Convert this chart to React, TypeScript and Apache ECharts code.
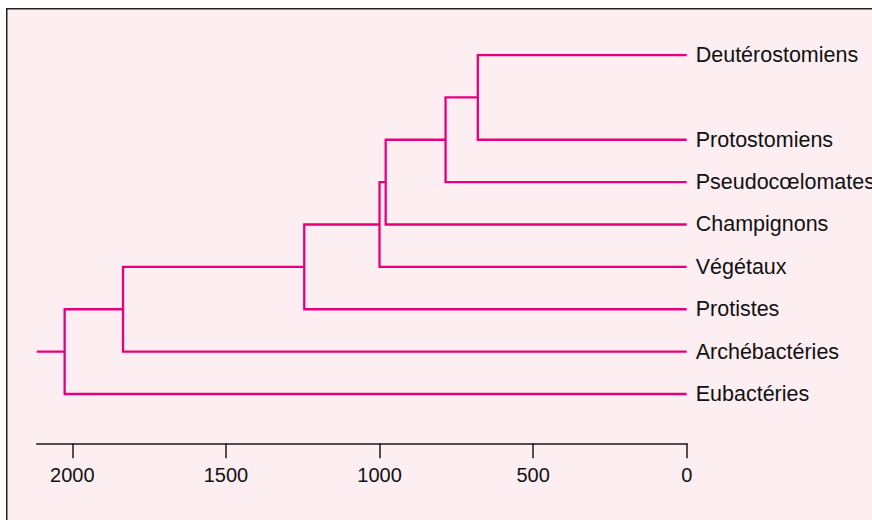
import React, { useEffect, useRef } from "react";
import * as echarts from "echarts";

// Leaves (name, vertical row)
const leafNames = [
  "Deutérostomiens",
  "Protostomiens",
  "Pseudocœlomates",
  "Champignons",
  "Végétaux",
  "Protistes",
  "Archébactéries",
  "Eubactéries",
];
const leafRows = [8, 6, 5, 4, 3, 2, 1, 0];

// Merges: [childA, childB] and age (millions of years)
const mergeChildren: [string, string][] = [
  ["Deutérostomiens", "Protostomiens"],
  ["n1", "Pseudocœlomates"],
  ["n2", "Champignons"],
  ["n3", "Végétaux"],
  ["n4", "Protistes"],
  ["n5", "Archébactéries"],
  ["n6", "Eubactéries"],
];
const mergeAges = [680, 785, 980, 1000, 1245, 1835, 2025];
const rootStart = 2116;

const axisTicks = [0, 500, 1000, 1500, 2000];

export default function App() {
  const ref = useRef<HTMLDivElement>(null);
  useEffect(() => {
    if (!ref.current) return;
    const chart = echarts.init(ref.current, null, { renderer: "svg" });

    const pos: Record<string, [number, number]> = {};
    leafNames.forEach((n, i) => (pos[n] = [0, leafRows[i]]));
    const segs: { coords: [number, number][] }[] = [];
    mergeChildren.forEach(([a, b], i) => {
      const x = mergeAges[i];
      const pa = pos[a];
      const pb = pos[b];
      segs.push({
        coords: [
          [pa[0], pa[1]],
          [x, pa[1]],
          [x, pb[1]],
          [pb[0], pb[1]],
        ],
      });
      pos["n" + (i + 1)] = [x, (pa[1] + pb[1]) / 2];
    });
    const root = pos["n" + mergeChildren.length];
    segs.push({ coords: [[rootStart, root[1]], [root[0], root[1]]] });

    const rowName: Record<number, string> = {};
    leafNames.forEach((n, i) => (rowName[leafRows[i]] = n));

    const font = "'Liberation Sans', Arial, Helvetica, sans-serif";

    chart.setOption({
      animation: false,
      backgroundColor: "#ffffff",
      graphic: [
        {
          type: "rect",
          z: -10,
          silent: true,
          shape: { x: 6.75, y: 8.75, width: 900, height: 600 },
          style: { fill: "#fdeef1", stroke: "#222222", lineWidth: 1.5 },
        },
      ],
      grid: {
        left: 36.7,
        right: 185.3,
        top: 55,
        bottom: 76.7,
        containLabel: false,
        outerBoundsMode: "none",
      },
      xAxis: {
        type: "value",
        inverse: true,
        min: 0,
        max: rootStart,
        splitLine: { show: false },
        axisLine: { show: true, onZero: false, lineStyle: { color: "#1a1a1a", width: 1.5 } },
        axisTick: {
          show: true,
          length: 15,
          lineStyle: { color: "#1a1a1a", width: 1.5 },
          customValues: axisTicks,
        },
        axisLabel: {
          customValues: axisTicks,
          formatter: (v: number) => String(v),
          margin: 22,
          color: "#111111",
          fontSize: 20,
          fontFamily: font,
        },
      },
      yAxis: {
        type: "value",
        position: "right",
        min: -1.164,
        max: 8,
        splitLine: { show: false },
        axisLine: { show: false, onZero: false },
        axisTick: { show: false },
        axisLabel: {
          customValues: leafRows,
          formatter: (v: number) => rowName[v] ?? "",
          margin: 9,
          color: "#111111",
          fontSize: 21.5,
          fontFamily: font,
        },
      },
      series: [
        {
          type: "lines",
          coordinateSystem: "cartesian2d",
          polyline: true,
          silent: true,
          lineStyle: { color: "#e6007e", width: 2.3, opacity: 1 },
          data: segs,
        },
      ],
    });
    return () => chart.dispose();
  }, []);
  return (
    <div style={{ position: "fixed", left: 0, top: 0, width: 872, height: 520 }}>
      <div ref={ref} style={{ width: 872, height: 520 }} />
    </div>
  );
}
